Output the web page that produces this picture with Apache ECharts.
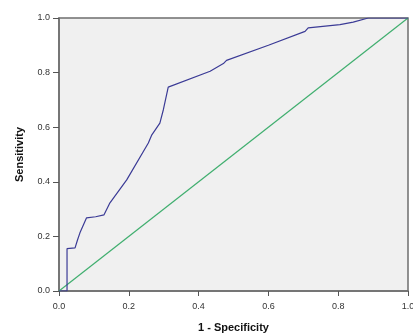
<!DOCTYPE html>
<html>
<head>
<meta charset="utf-8">
<script src="https://cdn.jsdelivr.net/npm/echarts@6/dist/echarts.min.js"></script>
<style>
  html, body { margin: 0; padding: 0; background: #fff; }
  #chart { width: 413px; height: 335px; }
</style>
</head>
<body>
<div id="chart"></div>
<script>
// ROC curve points: [1 - specificity, sensitivity]
var rocPoints = [
  [0, 0], [0.023, 0], [0.023, 0.155], [0.046, 0.158], [0.053, 0.187],
  [0.06, 0.213], [0.079, 0.268], [0.105, 0.272], [0.129, 0.279],
  [0.146, 0.323], [0.194, 0.407], [0.256, 0.542], [0.266, 0.572],
  [0.289, 0.615], [0.299, 0.664], [0.313, 0.747], [0.433, 0.805],
  [0.471, 0.833], [0.48, 0.845], [0.6, 0.9], [0.705, 0.951],
  [0.714, 0.964], [0.805, 0.976], [0.843, 0.985], [0.886, 1.0], [1, 1]
];
var refLine = [[0, 0], [1, 1]];
var xName = "1 - Specificity";
var yName = "Sensitivity";

var chartDom = document.getElementById("chart");
var myChart = echarts.init(chartDom);
var labelStyle = {
  color: "#333",
  fontSize: 9,
  fontFamily: "Liberation Sans, Arial, sans-serif",
  formatter: function (v) { return v.toFixed(1); }
};
var option = {
  animation: false,
  grid: {
    left: 59,
    right: 5,
    top: 18,
    bottom: 44,
    outerBoundsMode: "none",
    show: true,
    backgroundColor: "#f0f0f0",
    borderColor: "#6e6e6e",
    borderWidth: 1.5
  },
  xAxis: {
    type: "value",
    min: 0,
    max: 1,
    interval: 0.2,
    name: xName,
    nameLocation: "middle",
    nameGap: 31,
    nameTextStyle: { fontSize: 11, fontWeight: "bold", color: "#111", fontFamily: "Liberation Sans, Arial, sans-serif" },
    axisLine: { show: true, lineStyle: { color: "#6e6e6e", width: 1.5 } },
    axisTick: { show: true, inside: false, length: 5, lineStyle: { color: "#555" } },
    axisLabel: Object.assign({ margin: 11 }, labelStyle),
    splitLine: { show: false }
  },
  yAxis: {
    type: "value",
    min: 0,
    max: 1,
    interval: 0.2,
    name: yName,
    nameLocation: "middle",
    nameGap: 34,
    nameTextStyle: { fontSize: 11, fontWeight: "bold", color: "#111", fontFamily: "Liberation Sans, Arial, sans-serif" },
    axisLine: { show: true, lineStyle: { color: "#6e6e6e", width: 1.5 } },
    axisTick: { show: true, inside: false, length: 6, lineStyle: { color: "#555" } },
    axisLabel: Object.assign({ margin: 9 }, labelStyle),
    splitLine: { show: false }
  },
  series: [
    {
      type: "line",
      data: refLine,
      showSymbol: false,
      lineStyle: { color: "#3fae6e", width: 1.2 },
      z: 2
    },
    {
      type: "line",
      data: rocPoints,
      showSymbol: false,
      lineStyle: { color: "#3b3b96", width: 1.2 },
      z: 3
    }
  ]
};
option && myChart.setOption(option);
</script>
</body>
</html>
